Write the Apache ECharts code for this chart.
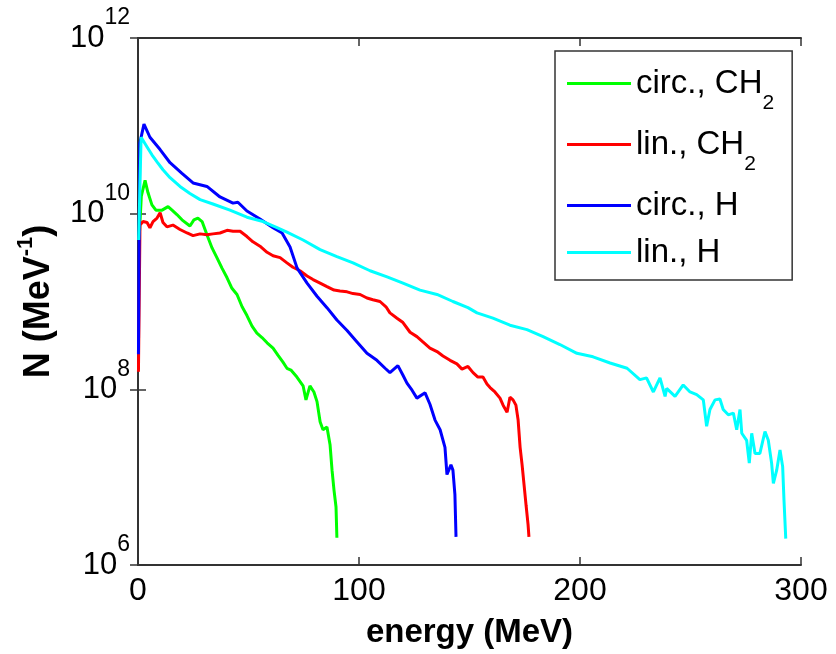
<!DOCTYPE html>
<html><head><meta charset="utf-8">
<script src="https://cdn.jsdelivr.net/npm/echarts@6/dist/echarts.min.js"></script>
<style>html,body{margin:0;padding:0;background:#fff}#chart{width:836px;height:654px}</style>
</head><body><div id="chart"></div>
<script>
// [energy (MeV), log10 N (MeV^-1)]
const circCH2 = [[0.5,9.7],[1.5,10.2],[3.2,10.38],[4.5,10.24],[6.3,10.10],[8.1,10.04],[10.9,10.04],[13.6,10.08],[15.4,10.04],[17.6,9.99],[19.9,9.93],[23.5,9.86],[25.3,9.93],[27.1,9.95],[29.0,9.91],[31.2,9.76],[33.5,9.61],[35.7,9.50],[38.0,9.38],[40.3,9.27],[42.5,9.15],[44.8,9.08],[47.1,8.94],[49.3,8.84],[51.6,8.72],[53.8,8.64],[56.1,8.59],[58.4,8.53],[61.1,8.47],[63.3,8.39],[65.6,8.31],[67.4,8.24],[69.2,8.22],[71.9,8.14],[74.7,8.04],[76.0,7.88],[77.8,8.04],[79.6,7.97],[81.0,7.86],[82.4,7.63],[83.7,7.54],[85.5,7.57],[86.9,7.37],[87.8,7.08],[88.7,6.85],[89.6,6.66],[90.0,6.31]];
const linCH2 = [[0.2,8.20],[0.9,9.87],[2.3,9.91],[4.1,9.90],[5.4,9.84],[6.8,9.91],[8.6,9.95],[10.0,10.01],[11.3,9.90],[13.1,9.85],[15.8,9.87],[19.0,9.82],[22.2,9.78],[24.9,9.75],[28.1,9.77],[31.2,9.76],[33.9,9.77],[37.1,9.78],[40.3,9.81],[43.0,9.80],[46.2,9.80],[49.3,9.74],[52.0,9.68],[55.2,9.63],[58.4,9.56],[61.1,9.52],[64.3,9.50],[67.4,9.44],[70.1,9.39],[73.3,9.35],[76.5,9.29],[79.2,9.25],[82.4,9.21],[85.5,9.17],[88.7,9.13],[91.4,9.12],[94.6,9.11],[97.3,9.09],[100.5,9.08],[103.6,9.04],[106.3,9.02],[109.5,9.00],[112.2,8.94],[114.0,8.87],[117.2,8.81],[119.9,8.76],[123.1,8.65],[126.2,8.60],[128.9,8.54],[132.1,8.47],[135.3,8.43],[138.0,8.38],[141.2,8.33],[144.3,8.29],[146.6,8.23],[149.3,8.26],[151.6,8.19],[153.8,8.14],[156.1,8.14],[157.9,8.06],[159.3,8.02],[161.5,7.97],[163.8,7.90],[165.2,7.82],[167.0,7.74],[168.3,7.91],[169.7,7.88],[171.0,7.82],[172.0,7.65],[172.9,7.34],[173.8,7.14],[174.7,6.91],[175.6,6.68],[176.5,6.46],[176.9,6.32]];
const circH = [[0.2,8.4],[0.8,10.8],[2.7,11.02],[5.4,10.87],[10.0,10.73],[14.5,10.58],[19.9,10.46],[24.9,10.35],[31.2,10.31],[37.1,10.19],[43.0,10.12],[45.2,10.13],[49.3,10.03],[55.2,9.94],[61.1,9.84],[65.2,9.78],[68.8,9.62],[72.0,9.38],[76.5,9.21],[81.0,9.06],[85.5,8.93],[90.0,8.79],[94.6,8.67],[99.1,8.54],[103.6,8.41],[108.1,8.33],[111.8,8.24],[114.0,8.19],[117.6,8.27],[119.9,8.16],[121.7,8.07],[124.0,7.99],[126.2,7.90],[129.9,7.96],[132.1,7.83],[134.4,7.65],[136.7,7.54],[138.9,7.34],[139.8,7.03],[141.6,7.14],[142.5,7.08],[143.4,6.80],[143.9,6.32]];
const linH = [[0.3,9.7],[1.4,10.87],[2.3,10.87],[4.1,10.76],[6.3,10.67],[8.6,10.59],[11.3,10.50],[14.5,10.41],[19.0,10.31],[23.5,10.23],[28.1,10.16],[33.9,10.11],[41.6,10.04],[49.3,9.96],[56.6,9.91],[62.9,9.84],[67.4,9.79],[74.7,9.70],[82.4,9.59],[90.0,9.51],[97.3,9.44],[105.0,9.35],[112.7,9.28],[119.9,9.21],[127.6,9.13],[135.3,9.08],[142.5,9.00],[149.3,8.93],[153.4,8.87],[160.6,8.81],[168.3,8.73],[176.0,8.68],[183.3,8.60],[190.9,8.51],[198.6,8.41],[205.9,8.37],[213.6,8.30],[221.3,8.24],[227.1,8.11],[230.1,8.13],[233.2,7.97],[236.2,8.13],[238.5,7.92],[239.2,8.01],[243.0,7.92],[246.7,8.05],[249.8,7.97],[252.8,7.94],[255.8,7.88],[257.3,7.58],[258.8,7.77],[261.1,7.88],[263.3,7.89],[264.8,7.77],[267.1,7.71],[269.4,7.73],[270.9,7.54],[272.4,7.77],[273.2,7.50],[275.4,7.42],[276.6,7.16],[277.7,7.50],[279.2,7.27],[281.4,7.27],[283.7,7.52],[285.2,7.42],[286.7,7.16],[287.5,6.93],[289.0,7.08],[290.5,7.31],[291.7,7.12],[292.3,6.74],[293.1,6.30]];

const seriesNames = ['circ., CH2', 'lin., CH2', 'circ., H', 'lin., H'];
const legendLabels = ['{a|circ., CH}{s|2}', '{a|lin., CH}{s|2}', '{a|circ., H}', '{a|lin., H}'];
const seriesColors = ['#00ff00', '#ff0000', '#0000ff', '#00ffff'];
const seriesData = [circCH2, linCH2, circH, linH];

const FONT = '"Liberation Sans", Arial, sans-serif';
const AX = '#333333';

const chart = echarts.init(document.getElementById('chart'));
function toValues(pairs) { return pairs.map(p => [p[0], Math.pow(10, p[1])]); }

const baseX = {
  type: 'value', min: 0, max: 300, interval: 100,
  axisLine: { show: true, onZero: false, lineStyle: { color: AX, width: 2 } },
  axisTick: { show: true, inside: true, length: 8, lineStyle: { color: AX, width: 1.5 } },
  splitLine: { show: false }
};
const baseY = {
  type: 'log', logBase: 10, min: 1e6, max: 1e12, interval: 2,
  axisLine: { show: true, lineStyle: { color: AX, width: 2 } },
  axisTick: { show: true, inside: true, length: 8, lineStyle: { color: AX, width: 1.5 } },
  minorTick: { show: false },
  splitLine: { show: false }
};

const option = {
  animation: false,
  backgroundColor: '#ffffff',
  grid: { left: 138, right: 35, top: 38, bottom: 89 },
  legend: {
    orient: 'vertical', left: 555, top: 51,
    padding: [16, 18, 11, 12],
    itemWidth: 64, itemHeight: 3, itemGap: 14,
    icon: 'rect',
    borderColor: AX, borderWidth: 1.5, backgroundColor: '#ffffff',
    data: seriesNames,
    formatter: name => legendLabels[seriesNames.indexOf(name)],
    textStyle: {
      fontSize: 33, color: '#000', fontFamily: FONT,
      rich: {
        a: { fontSize: 33, lineHeight: 40, color: '#000', fontFamily: FONT },
        s: { fontSize: 21, padding: [40, 0, 0, 0], color: '#000', fontFamily: FONT }
      }
    }
  },
  xAxis: [
    Object.assign({}, baseX, {
      position: 'bottom',
      axisLabel: { color: '#000', fontSize: 32, fontFamily: FONT, margin: 10 },
      name: 'energy (MeV)', nameLocation: 'middle', nameGap: 51,
      nameTextStyle: { fontSize: 33, fontWeight: 'bold', color: '#000', fontFamily: FONT }
    }),
    Object.assign({}, baseX, { position: 'top', axisLabel: { show: false } })
  ],
  yAxis: [
    Object.assign({}, baseY, {
      position: 'left',
      axisLabel: {
        margin: 8, color: '#000',
        formatter: v => '{b|10}{e|' + Math.round(Math.log10(v)) + '}',
        rich: {
          b: { fontSize: 31, color: '#000', fontFamily: FONT },
          e: { fontSize: 23, color: '#000', fontFamily: FONT, padding: [0, 0, 40, 0] }
        }
      },
      name: 'N (MeV{s|-1})', nameLocation: 'middle', nameGap: 75,
      nameTextStyle: {
        fontSize: 36, fontWeight: 'bold', color: '#000', fontFamily: FONT,
        rich: { s: { fontSize: 22, fontWeight: 'bold', color: '#000', fontFamily: FONT, padding: [0, 0, 26, 0] } }
      }
    }),
    Object.assign({}, baseY, { position: 'right', axisLabel: { show: false } })
  ],
  series: seriesNames.map((n, i) => ({
    name: n, type: 'line', xAxisIndex: 0, yAxisIndex: 0,
    data: toValues(seriesData[i]),
    symbol: 'none', showSymbol: false, smooth: false,
    lineStyle: { color: seriesColors[i], width: 3 },
    itemStyle: { color: seriesColors[i] },
    emphasis: { disabled: true }
  }))
};
chart.setOption(option);
</script>
</body></html>
